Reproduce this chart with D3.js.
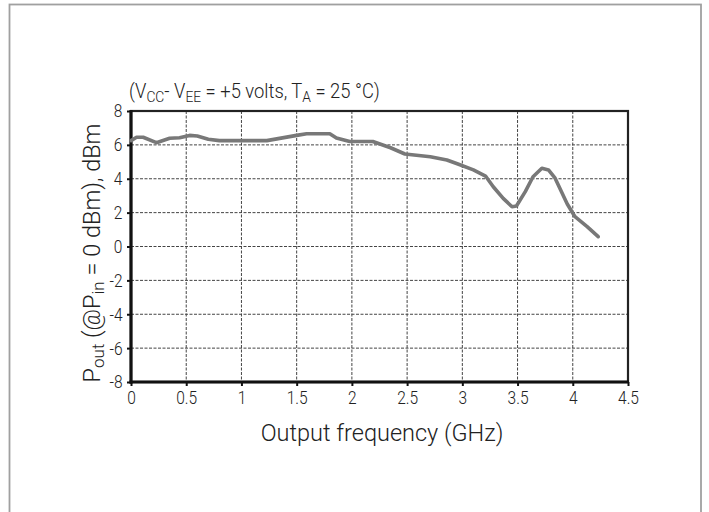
<!DOCTYPE html>
<html><head><meta charset="utf-8">
<script src="https://cdn.jsdelivr.net/npm/d3@7"></script>
<style>
html,body{margin:0;padding:0;background:#fff;}
svg{display:block;}
</style></head>
<body>
<svg id="c" width="709" height="512"></svg>
<script>
const freqGHz = [0.0,0.05,0.11,0.23,0.35,0.44,0.53,0.60,0.70,0.80,1.00,1.23,1.50,1.59,1.80,1.86,1.98,2.19,2.35,2.48,2.71,2.86,2.96,3.10,3.21,3.28,3.37,3.45,3.49,3.57,3.64,3.72,3.78,3.84,3.95,4.02,4.13,4.23];
const poutDbm = [6.25,6.45,6.45,6.13,6.39,6.42,6.56,6.52,6.33,6.25,6.25,6.25,6.56,6.66,6.66,6.40,6.20,6.20,5.83,5.46,5.30,5.11,4.87,4.52,4.16,3.53,2.84,2.35,2.39,3.24,4.12,4.62,4.52,4.03,2.51,1.76,1.17,0.58];
const xTicks = [0,0.5,1,1.5,2,2.5,3,3.5,4,4.5];
const yTicks = [-8,-6,-4,-2,0,2,4,6,8];

const svg = d3.select("#c");
const x = d3.scaleLinear().domain([0,4.5]).range([131,628]);
const y = d3.scaleLinear().domain([-8,8]).range([382,111]);
const textFont = "Roboto, 'Liberation Sans', sans-serif";
const tickScale = 0.84;

// outer frame
svg.append("rect").attr("x",9.5).attr("y",4.5).attr("width",691.5).attr("height",520)
  .attr("fill","none").attr("stroke","#a0a0a0").attr("stroke-width",1.8);

// grid
const g = svg.append("g");
g.selectAll(".vg").data(xTicks.slice(1,-1)).join("line")
  .attr("x1",d=>x(d)).attr("x2",d=>x(d)).attr("y1",y(8)).attr("y2",y(-8))
  .attr("stroke","#444").attr("stroke-width",1).attr("stroke-dasharray","3,1.5");
g.selectAll(".hg").data(yTicks.slice(1,-1)).join("line")
  .attr("y1",d=>y(d)).attr("y2",d=>y(d)).attr("x1",x(0)).attr("x2",x(4.5))
  .attr("stroke","#444").attr("stroke-width",1).attr("stroke-dasharray","3,1.5");

// axes with D3
const fmt = d=>d3.format("~g")(d).replace("\u2212","-");
const xAxis = d3.axisBottom(x).tickValues(xTicks).tickSize(4).tickPadding(5).tickFormat(fmt);
const yAxis = d3.axisLeft(y).tickValues(yTicks).tickSize(4).tickPadding(4.5).tickFormat(fmt);
const gx = svg.append("g").attr("transform",`translate(0,${y(-8)})`).call(xAxis);
const gy = svg.append("g").attr("transform",`translate(${x(0)},0)`).call(yAxis);
[gx,gy].forEach(a=>{
  a.select(".domain").remove();
  a.selectAll(".tick line").attr("stroke","#111").attr("stroke-width",2);
  a.selectAll(".tick text").attr("fill","#222")
    .style("font-family",textFont).style("font-size","18.5px").style("font-weight","300")
    .attr("x",function(){ const v=parseFloat(this.getAttribute("x")||0); return v/tickScale; })
    .attr("transform",`scale(${tickScale},1)`);
});

// plot frame
svg.append("rect").attr("x",x(0)).attr("y",y(8)).attr("width",x(4.5)-x(0)).attr("height",y(-8)-y(8))
  .attr("fill","none").attr("stroke","#222").attr("stroke-width",2.2);
svg.append("line").attr("x1",x(0)).attr("x2",x(0)).attr("y1",y(8)-1).attr("y2",y(-8)+1.5)
  .attr("stroke","#111").attr("stroke-width",3.2);
svg.append("line").attr("x1",x(0)-1.5).attr("x2",x(4.5)+1).attr("y1",y(-8)).attr("y2",y(-8))
  .attr("stroke","#111").attr("stroke-width",3.2);

// data line
const line = d3.line().x((d,i)=>x(freqGHz[i])).y(d=>y(d)).curve(d3.curveLinear);
svg.append("path").datum(poutDbm).attr("d",line)
  .attr("fill","none").attr("stroke","#787878").attr("stroke-width",3.6)
  .attr("stroke-linejoin","round").attr("stroke-linecap","round");

// title
const t = svg.append("text").attr("transform","translate(129,98) scale(0.92,1)").attr("fill","#222")
  .style("font-family",textFont).style("font-size","20px").style("font-weight","300");
t.append("tspan").text("(V");
t.append("tspan").attr("dy",4).style("font-size","15px").text("CC");
t.append("tspan").attr("dy",-4).text("- V");
t.append("tspan").attr("dy",4).style("font-size","15px").text("EE");
t.append("tspan").attr("dy",-4).text(" = +5 volts, T");
t.append("tspan").attr("dy",4).style("font-size","15px").text("A");
t.append("tspan").attr("dy",-4).text(" = 25 °C)");

// x axis title
svg.append("text").attr("x",382).attr("y",441).attr("text-anchor","middle")
  .attr("fill","#222").style("font-family",textFont).style("font-size","23.5px").style("font-weight","300")
  .text("Output frequency (GHz)");

// y axis title
const yt = svg.append("text").attr("transform",`translate(99.5,253) rotate(-90)`)
  .attr("text-anchor","middle").attr("fill","#222")
  .style("font-family",textFont).style("font-size","23.5px").style("font-weight","300");
yt.append("tspan").text("P");
yt.append("tspan").attr("dy",4).style("font-size","17px").text("out");
yt.append("tspan").attr("dy",-4).text(" (@P");
yt.append("tspan").attr("dy",4).style("font-size","17px").text("in");
yt.append("tspan").attr("dy",-4).text(" = 0 dBm), dBm");
</script>
</body></html>
